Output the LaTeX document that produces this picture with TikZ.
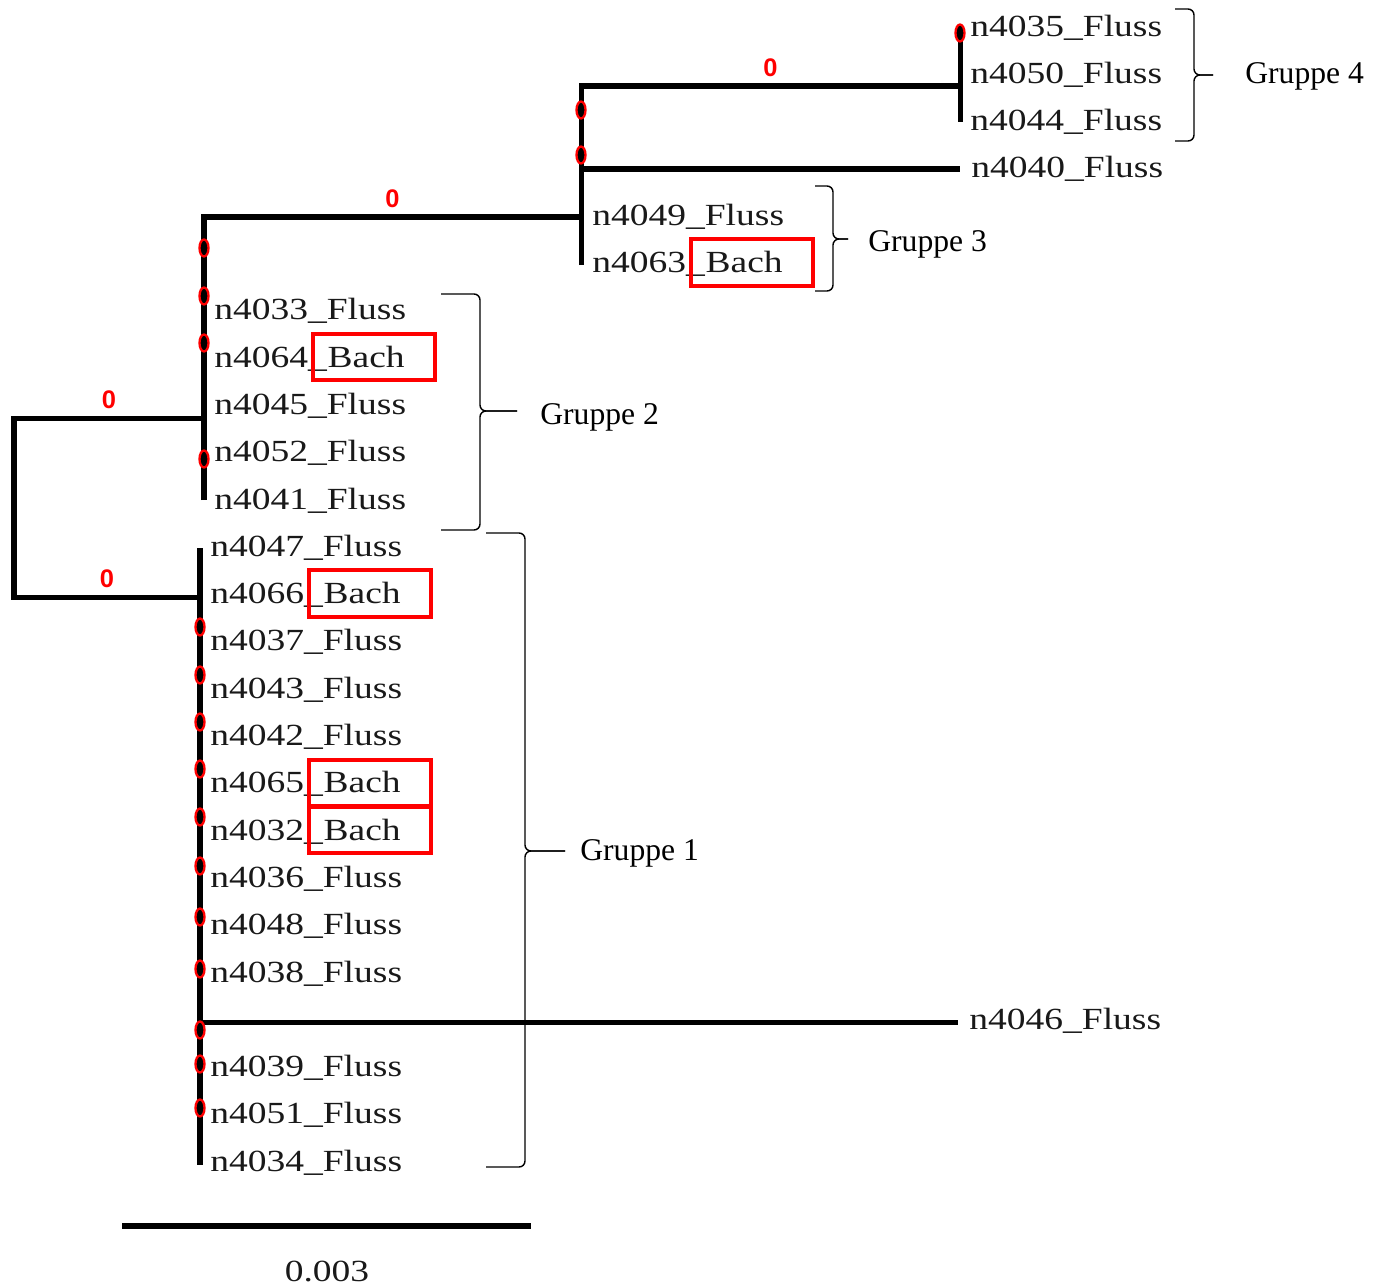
\documentclass[tikz,border=0pt]{standalone}
\usepackage{fontspec}
\setmainfont{Liberation Serif}
\newfontfamily\leaffont{Liberation Serif}[FakeStretch=1.22]
\newfontfamily\zerofont{Liberation Sans}
\usetikzlibrary{positioning}
\tikzset{
  branch/.style={line width=2.85pt, line join=miter},
  leaf/.style={anchor=base west, inner sep=0pt, text=black!90,
    font=\leaffont\fontsize{17.5}{20}\selectfont},
  bachbox/.style={draw=red, line width=2.3pt},
  zerolab/.style={above=4pt, inner sep=0pt, text=red,
    font=\zerofont\bfseries\fontsize{14.5}{16}\selectfont},
  dotmark/.style={draw=red, fill=black, line width=1.3pt},
  bracket/.style={line width=0.8pt, rounded corners=0.12cm},
  grouplab/.style={anchor=west, inner sep=0pt, font=\fontsize{18}{20}\selectfont},
  scalebar/.style={line width=3.4pt},
}

\begin{document}
\begin{tikzpicture}[x=0.02cm, y=-0.02cm]
  \useasboundingbox (0,0) rectangle (1376,1288);
  % inner nodes of the tree
  \coordinate (rtop) at (14,418);
  \coordinate (rbot) at (14,597);
  \coordinate (aroot) at (204,418);
  \coordinate (atop) at (204,217);
  \coordinate (abot) at (204,500);
  \coordinate (broot) at (581,217);
  \coordinate (btop) at (581,86);
  \coordinate (bbot) at (581,265);
  \coordinate (bmid) at (581,169);
  \coordinate (x4040) at (960,169);
  \coordinate (croot) at (960,86);
  \coordinate (ctop) at (960,28);
  \coordinate (cbot) at (960,122);
  \coordinate (droot) at (200,597);
  \coordinate (dtop) at (200,548);
  \coordinate (dbot) at (200,1165);
  \coordinate (dmid) at (200,1022);
  \coordinate (x4046) at (958,1022);
  % branches
  \draw[branch] (aroot) -- node[zerolab]{0} (rtop) -- (rbot) -- node[zerolab]{0} (droot);
  \draw[branch] (abot) -- (atop) -- node[zerolab]{0} (broot);
  \draw[branch] (bbot) -- (btop) -- node[zerolab]{0} (croot);
  \draw[branch] (bmid) -- (x4040);
  \draw[branch] (ctop) -- (cbot);
  \draw[branch] (dtop) -- (dbot);
  \draw[branch] (dmid) -- (x4046);
  % markers on the branches
  \foreach \mx/\my in {204/248,204/296,204/343,204/459,581/110,581/155,960/33,
      200/627,200/675,200/722,200/769,200/817,200/866,200/917,200/969,
      200/1030,200/1064,200/1108}
    \draw[dotmark] (\mx,\my) ellipse [x radius=0.09cm, y radius=0.17cm];
  % leaves
  \foreach \nm/\lx/\k in {4035/970/0,4050/970/1,4044/970/2,4040/971/3,4049/592/4,
      4033/214/6,4045/214/8,4052/214/9,4041/214/10,
      4047/210/11,4037/210/13,4043/210/14,4042/210/15,4036/210/18,4048/210/19,
      4038/210/20,4046/969/21,4039/210/22,4051/210/23,4034/210/24}
    \node[leaf] (n\nm) at (\lx,{36+47.3*\k}) {n\nm\_Fluss};
  \foreach \nm/\lx/\k in {4063/592/5,4064/214/7,4066/210/12,4065/210/16,4032/210/17}{
    \node[leaf] (n\nm) at (\lx,{36+47.3*\k}) {n\nm\_};
    \node[leaf] (b\nm) at (n\nm.base east) {Bach};
    \draw[bachbox] ([xshift=-0.28cm,yshift=-0.25cm]b\nm.south west)
      rectangle ([xshift=0.6cm,yshift=0.23cm]b\nm.north east);
  }
  % groups (end, spine, tip)
  \foreach \ex/\sx/\tx/\ya/\ym/\yb in {1175/1194/1213/9/75/141, 815/833/848/186/239/291,
      441/480/517/294/411/530, 486/525/565/533/851/1167}{
    \draw[bracket] (\ex,\ya) -- (\sx,\ya) -- (\sx,\ym) -- (\tx,\ym);
    \draw[bracket] (\ex,\yb) -- (\sx,\yb) -- (\sx,\ym) -- (\tx,\ym);
  }
  \node[grouplab] (g4) at (1245,76) {Gruppe 4};
  \node[grouplab] (g3) at (868,244) {Gruppe 3};
  \node[grouplab] (g2) at (540,417) {Gruppe 2};
  \node[grouplab] (g1) at (580,853) {Gruppe 1};
  % scale
  \coordinate (sbl) at (122,1226);
  \coordinate (sbr) at (531,1226);
  \draw[scalebar] (sbl) -- (sbr);
  \node[leaf, anchor=base] (scale) at (327,1281) {0.003};
\end{tikzpicture}
\end{document}
